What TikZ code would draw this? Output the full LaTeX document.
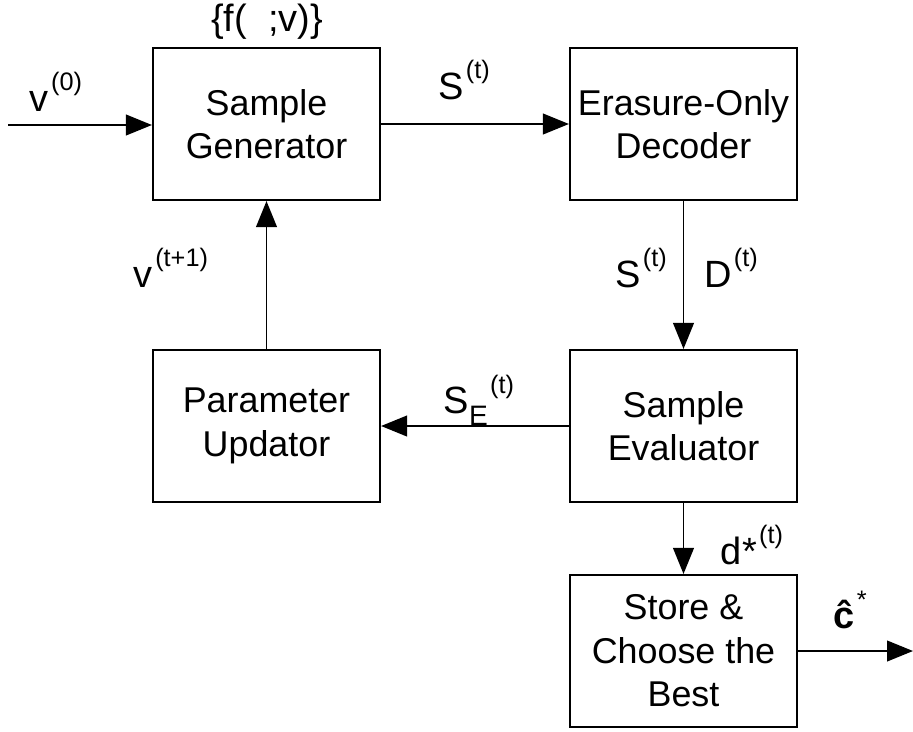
\documentclass[tikz,border=0pt]{standalone}
\usepackage{fontspec}
\setmainfont{Liberation Sans}
\usetikzlibrary{arrows.meta}
\newcommand{\sups}[1]{\kern0.06em\raisebox{0.55em}{\fontsize{18}{18}\selectfont #1}}
\newcommand{\subs}[1]{\raisebox{-0.3em}{\fontsize{20}{20}\selectfont #1}}
\tikzset{
  block/.style={draw,line width=1.5pt,minimum width=5.675cm,minimum height=3.8cm,align=center,
    font=\fontsize{25.5}{31}\selectfont},
  lbl/.style={font=\fontsize{27}{30}\selectfont},
  flow/.style={line width=1.1pt,-{Triangle[length=0.65cm,width=0.52cm]}}
}
\begin{document}
\begin{tikzpicture}[x=0.025cm,y=-0.025cm]
        \useasboundingbox (0,0) rectangle (913,731);
        \node[block] (gen) at (266.5,124) {Sample\\Generator};
        \node[block] (dec) at (683.5,124) {Erasure-Only\\Decoder};
        \node[block] (upd) at (266.5,426) {Parameter\\Updator};
        \node[block] (eval) at (683.5,426) {Sample\\Evaluator};
        \node[block] (store) at (683.5,651) {Store \&\\Choose the\\Best};
        \coordinate (in) at (8,125);
        \coordinate (out) at (913,651);
        \draw[flow] (in) -- (gen.west |- in);
        \draw[flow] (gen.east) -- (dec.west);
        \draw[flow] (dec.south) -- (eval.north);
        \draw[flow] (eval.west) -- (upd.east);
        \draw[flow] (upd.north) -- (gen.south);
        \draw[flow] (eval.south) -- (store.north);
        \draw[flow] (store.east) -- (out);
        \node[lbl] (fv) at (267,22) {\{f(\ \ ;v)\}};
        \node[lbl] (v0) at (56,92) {v\sups{(0)}};
        \node[lbl] (st) at (464,80) {S\sups{(t)}};
        \node[lbl] (st2) at (641,268) {S\sups{(t)}};
        \node[lbl] (dt) at (731,268) {D\sups{(t)}};
        \node[lbl] (vt) at (171,268) {v\sups{(t+1)}};
        \node[lbl] (se) at (479,400) {S\subs{E}\sups{(t)}};
        \node[lbl] (dstar) at (752,545) {d*\sups{(t)}};
        \node[lbl] (chat) at (850,610) {\textbf{\^c}\sups{*}};
\end{tikzpicture}
\end{document}
